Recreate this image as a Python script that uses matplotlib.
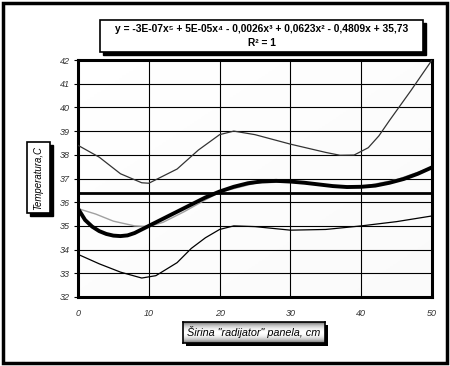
import numpy as np
import matplotlib
matplotlib.use("Agg")
import matplotlib.pyplot as plt
from matplotlib.patches import Rectangle

plt.rcParams['font.family'] = ['Liberation Sans', 'DejaVu Sans']

W, H = 450, 366

# upper thin curve
x_upper = [0, 3, 6, 9, 10, 12, 14, 17, 20, 22, 25, 30, 35, 37, 39, 41, 42.5, 44, 47, 50]
t_upper = [38.4, 37.9, 37.2, 36.82, 36.8, 37.1, 37.4, 38.2, 38.85, 39.0, 38.85, 38.45,
           38.1, 37.98, 37.99, 38.3, 38.8, 39.45, 40.7, 42.0]

# measured data (light gray)
x_data = [0, 2.5, 5, 8, 10, 12, 15, 18, 20, 25, 30, 35, 40, 45, 50]
t_data = [35.73, 35.5, 35.2, 35.0, 34.97, 35.15, 35.6, 36.1, 36.42, 36.8, 36.87,
          36.72, 36.65, 36.95, 37.47]

# polynomial trend (thick)
x_trend = [0, 1, 2, 3, 4, 5, 6, 7, 8, 10, 12, 14, 16, 18, 20, 22, 24, 26, 28, 30,
           32, 34, 36, 38, 40, 42, 44, 46, 48, 50]
t_trend = [35.73, 35.25, 34.97, 34.78, 34.66, 34.59, 34.57, 34.6, 34.7, 35.0, 35.3,
           35.6, 35.9, 36.2, 36.45, 36.65, 36.8, 36.88, 36.9, 36.87, 36.82, 36.75,
           36.68, 36.64, 36.65, 36.7, 36.82, 36.98, 37.2, 37.47]

# lower thin curve
x_lower = [0, 3, 6, 9, 11, 14, 16, 18, 20, 22, 25, 30, 35, 40, 45, 50]
t_lower = [33.8, 33.4, 33.05, 32.8, 32.9, 33.45, 34.05, 34.5, 34.85, 35.0, 34.97,
           34.82, 34.85, 35.0, 35.18, 35.42]

level = 36.4

x_ticks = [0, 10, 20, 30, 40, 50]
y_ticks = [32, 33, 34, 35, 36, 37, 38, 39, 40, 41, 42]

equation = "y = -3E-07x\u2075 + 5E-05x\u2074 - 0,0026x\u00b3 + 0,0623x\u00b2 - 0,4809x + 35,73"
r2_text = "R\u00b2 = 1"
xlabel = "\u0160irina \"radijator\" panela, cm"
ylabel = "Temperatura,C"


def fr(x0, y0, x1, y1):
    """pixel box (top-left origin) -> figure fraction rect"""
    return [x0 / W, 1 - y1 / H, (x1 - x0) / W, (y1 - y0) / H]


def shadow_box(fig, x0, y0, x1, y1, off=3, fill='white', lw=1.2):
    l, b, w, h = fr(x0, y0, x1, y1)
    fig.patches.append(Rectangle((l + off / W, b - off / H), w, h, transform=fig.transFigure,
                                 facecolor='black', edgecolor='black', zorder=1))
    fig.patches.append(Rectangle((l, b), w, h, transform=fig.transFigure,
                                 facecolor=fill, edgecolor='black', lw=lw, zorder=2))


fig = plt.figure(figsize=(W / 100, H / 100), dpi=100)

# outer frame
fig.patches.append(Rectangle((3 / W, 3 / H), 444 / W, 360 / H, transform=fig.transFigure,
                             facecolor='none', edgecolor='black', lw=2.5, zorder=0))

ax = fig.add_axes(fr(78, 60, 432, 297))
ax.set_zorder(3)
ax.set_xlim(0, 50)
ax.set_ylim(32, 42)

# faint background gradient
grad = np.linspace(0, 1, 100)[None, :] * 0.5 + np.linspace(0, 1, 100)[:, None] * 0.5
ax.imshow(grad, extent=[0, 50, 32, 42], aspect='auto', cmap='Greys', vmin=0, vmax=25,
          origin='upper', zorder=0)

for yv in y_ticks:
    ax.axhline(yv, color='black', lw=0.8, zorder=1)
for xv in x_ticks:
    ax.axvline(xv, color='black', lw=0.8, zorder=1)

ax.plot(x_upper, t_upper, color='#333333', lw=0.9, zorder=3)
ax.plot(x_lower, t_lower, color='black', lw=0.9, zorder=3)
ax.plot(x_data, t_data, color='#a0a0a0', lw=1.0, zorder=3)
ax.plot(x_trend, t_trend, color='black', lw=2.8, zorder=4, solid_capstyle='round')
ax.axhline(level, color='black', lw=2.0, zorder=4)

ax.set_xticks(x_ticks)
ax.set_yticks(y_ticks)
ax.set_xticklabels([str(v) for v in x_ticks], fontsize=6.5, style='italic', color='#333333')
ax.set_yticklabels([str(v) for v in y_ticks], fontsize=6.5, style='italic', color='#333333')
ax.tick_params(axis='y', length=3, width=0.8, pad=3)
ax.tick_params(axis='x', length=0, pad=9)
for s in ax.spines.values():
    s.set_linewidth(2.2)

# equation box
shadow_box(fig, 100, 20, 423, 52)
fig.text((100 + 423) / 2 / W, 1 - 28.5 / H, equation, ha='center', va='center',
         fontsize=7.4, weight='bold', zorder=3)
fig.text((100 + 423) / 2 / W, 1 - 43 / H, r2_text, ha='center', va='center',
         fontsize=7.4, weight='bold', zorder=3)

# y label box
shadow_box(fig, 27, 142, 50, 213)
fig.text(38.5 / W, 1 - 177.5 / H, ylabel, rotation=90, ha='center', va='center',
         fontsize=6.9, style='italic', zorder=3)

# x label box with gradient fill
l, b, w, h = fr(183, 322, 325, 343)
fig.patches.append(Rectangle((l + 3 / W, b - 3 / H), w, h, transform=fig.transFigure,
                             facecolor='black', zorder=1))
bax = fig.add_axes([l, b, w, h])
bax.set_zorder(3)
vg = np.abs(np.linspace(-1, 1, 50))[:, None] ** 1.5
bax.imshow(vg, aspect='auto', cmap='Greys', vmin=0, vmax=1.6, extent=[0, 1, 0, 1])
bax.set_xticks([])
bax.set_yticks([])
for s in bax.spines.values():
    s.set_linewidth(1.2)
bax.text(0.5, 0.5, xlabel, ha='center', va='center', fontsize=7.8, style='italic',
         transform=bax.transAxes)

fig.savefig("out.png", dpi=100)
